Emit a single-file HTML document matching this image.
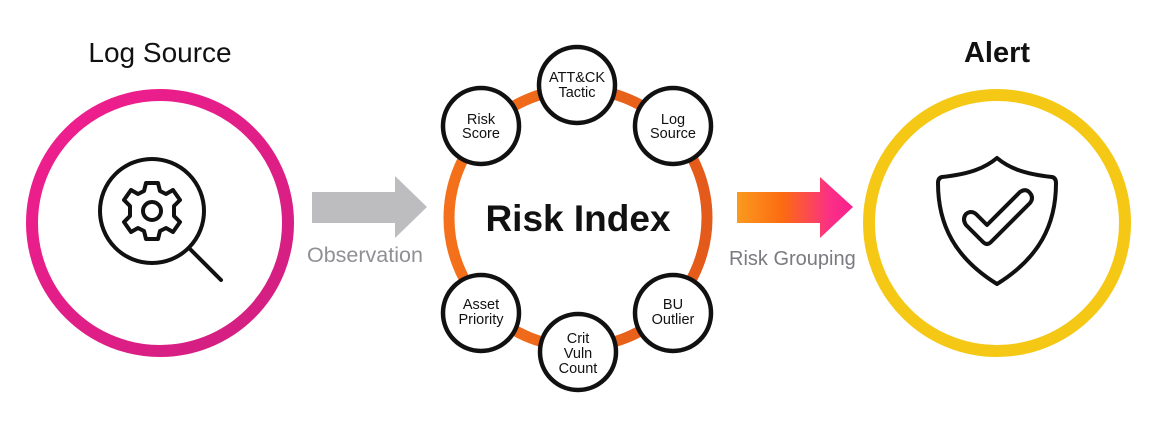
<!DOCTYPE html>
<html><head><meta charset="utf-8"><style>
html,body{margin:0;padding:0;background:#fff;}
svg{display:block;}
text{font-family:"Liberation Sans",Arial,sans-serif;}
</style></head><body>
<svg width="1166" height="426" viewBox="0 0 1166 426" xmlns="http://www.w3.org/2000/svg">
<defs>
<linearGradient id="pk" x1="0" y1="0" x2="1" y2="1">
<stop offset="0" stop-color="#f21e8f"/><stop offset="1" stop-color="#d01f80"/></linearGradient>
<linearGradient id="ar" x1="737" y1="0" x2="853" y2="0" gradientUnits="userSpaceOnUse">
<stop offset="0" stop-color="#fb9a1e"/><stop offset="0.4" stop-color="#fc6a12"/><stop offset="0.8" stop-color="#fb2f86"/><stop offset="1" stop-color="#f8208f"/></linearGradient>
<linearGradient id="or" x1="0" y1="0" x2="1" y2="0">
<stop offset="0" stop-color="#f4701a"/><stop offset="1" stop-color="#e35a1a"/></linearGradient>
</defs>
<text x="160" y="62" font-size="28" text-anchor="middle" fill="#111">Log Source</text>
<text x="997" y="62" font-size="29" font-weight="bold" text-anchor="middle" fill="#111">Alert</text>

<circle cx="160" cy="223" r="128" fill="none" stroke="url(#pk)" stroke-width="12"/>
<circle cx="152" cy="211" r="52" fill="none" stroke="#111" stroke-width="4"/>
<line x1="190" y1="249" x2="221" y2="280" stroke="#111" stroke-width="4" stroke-linecap="round"/>
<g transform="translate(152,211)" fill="none" stroke="#111" stroke-width="4" stroke-linejoin="round">
<path d="M-6,-28 L6,-28 L8,-20 L14,-17 L21,-21 L28,-11 L22,-5 L22,5 L28,11 L21,21 L14,17 L8,20 L6,28 L-6,28 L-8,20 L-14,17 L-21,21 L-28,11 L-22,5 L-22,-5 L-28,-11 L-21,-21 L-14,-17 L-8,-20 Z"/>
<circle r="9"/>
</g>

<polygon points="312,192 395,192 395,176 427,207 395,238 395,223 312,223" fill="#bdbdc0"/>
<text x="307" y="262" font-size="21.5" fill="#8f8f95">Observation</text>

<circle cx="578" cy="218" r="129" fill="none" stroke="url(#or)" stroke-width="11"/>
<text x="578" y="231" font-size="37" font-weight="bold" text-anchor="middle" fill="#111">Risk Index</text>
<g fill="#fff" stroke="#111" stroke-width="4.5">
<circle cx="577" cy="85" r="38"/>
<circle cx="481" cy="126" r="38"/>
<circle cx="673" cy="126" r="38"/>
<circle cx="481" cy="313" r="38"/>
<circle cx="673" cy="313" r="38"/>
<circle cx="578" cy="352" r="38"/>
</g>
<g font-size="14.5" text-anchor="middle" fill="#111">
<text x="577" y="82">ATT&amp;CK</text><text x="577" y="97">Tactic</text>
<text x="481" y="124">Risk</text><text x="481" y="138">Score</text>
<text x="673" y="124">Log</text><text x="673" y="138">Source</text>
<text x="481" y="309">Asset</text><text x="481" y="324">Priority</text>
<text x="673" y="309">BU</text><text x="673" y="324">Outlier</text>
<text x="578" y="343">Crit</text><text x="578" y="358">Vuln</text><text x="578" y="373">Count</text>
</g>

<polygon points="737,192 820,192 820,177 853,207 820,238 820,223 737,223" fill="url(#ar)"/>
<text x="729" y="265" font-size="20" fill="#7a7a80">Risk Grouping</text>

<circle cx="997" cy="223" r="128" fill="none" stroke="#f5c816" stroke-width="12"/>
<path d="M997,158 C985,168 970,174 942,177 Q938,178 938,183 C938,225 955,258 997,284 C1039,258 1056,225 1056,183 Q1056,178 1052,177 C1024,174 1009,168 997,158 Z" fill="none" stroke="#111" stroke-width="4" stroke-linejoin="round"/>
<path d="M966,214 Q971,210 976,214 L987,225 L1020,192 Q1026,188 1030,193 Q1034,198 1030,203 L991,242 Q987,246 983,242 L966,225 Q962,219 966,214 Z" fill="none" stroke="#111" stroke-width="4" stroke-linejoin="round"/>
</svg>
</body></html>
